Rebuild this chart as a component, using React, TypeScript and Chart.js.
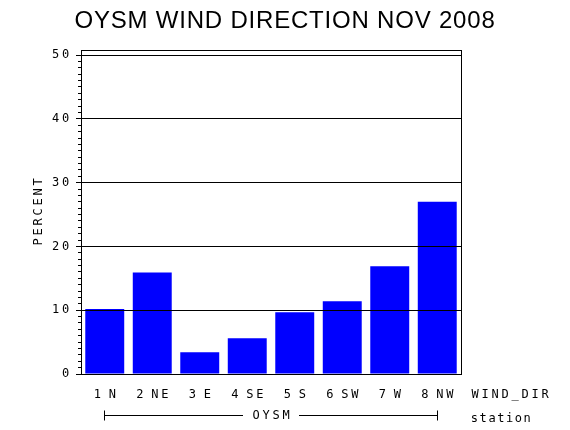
import { useEffect, useRef } from 'react'
import { Chart, registerables } from 'chart.js'
import type { Plugin } from 'chart.js'

Chart.register(...registerables)

const title = 'OYSM WIND DIRECTION NOV 2008'
const windDirs = ['1 N', '2 NE', '3 E', '4 SE', '5 S', '6 SW', '7 W', '8 NW']
const percent = [10.2, 15.9, 3.4, 5.6, 9.7, 11.4, 16.9, 27.0]
const yTicks = [0, 10, 20, 30, 40, 50]
const yMax = 50.8
const yMinorStep = 1
const yLabel = 'PERCENT'
const xLabel = 'WIND_DIR'
const stationName = 'OYSM'
const stationLabel = 'station'

const MONO = '12px "DejaVu Sans Mono", "Liberation Mono", monospace'

function cellWidth(ch: string) {
  if (ch === ' ') return 5
  if (ch >= 'a' && ch <= 'z') return 8.8
  return 10
}

function spacedWidth(text: string) {
  return [...text].reduce((w, ch) => w + cellWidth(ch), 0)
}

// SAS hardware-font look: each glyph centred in its own fixed cell
function drawSpaced(ctx: CanvasRenderingContext2D, text: string, x: number, y: number, align: 'left' | 'center' | 'right') {
  const total = spacedWidth(text)
  let cx = align === 'left' ? x : align === 'center' ? x - total / 2 : x - total
  ctx.textAlign = 'center'
  ctx.textBaseline = 'middle'
  for (const ch of text) {
    const w = cellWidth(ch)
    if (ch !== ' ') ctx.fillText(ch, cx + w / 2, y)
    cx += w
  }
}

const half = (v: number) => Math.round(v - 0.5) + 0.5

const sasFrame: Plugin<'bar'> = {
  id: 'sasFrame',
  afterDraw(chart) {
    const { ctx, chartArea: a, scales } = chart
    const x = scales.x
    const y = scales.y
    ctx.save()
    ctx.strokeStyle = '#000'
    ctx.fillStyle = '#000'
    ctx.lineWidth = 1

    // plot box
    ctx.strokeRect(a.left + 0.5, a.top + 0.5, a.right - a.left, a.bottom - a.top)

    // y ticks, major + minor, pointing outward
    const last = yTicks[yTicks.length - 1]
    for (let v = 0; v <= last; v += yMinorStep) {
      const py = half(y.getPixelForValue(v))
      const len = yTicks.includes(v) ? 5 : 3
      ctx.beginPath()
      ctx.moveTo(a.left - len, py)
      ctx.lineTo(a.left + 0.5, py)
      ctx.stroke()
    }

    ctx.font = MONO
    yTicks.forEach(v => drawSpaced(ctx, String(v), a.left - 10.5, y.getPixelForValue(v), 'right'))

    ctx.save()
    ctx.translate(39, (a.top + a.bottom) / 2)
    ctx.rotate(-Math.PI / 2)
    drawSpaced(ctx, yLabel, 0, 0, 'center')
    ctx.restore()

    windDirs.forEach((l, i) => drawSpaced(ctx, l, x.getPixelForValue(i), a.bottom + 21, 'center'))
    drawSpaced(ctx, xLabel, a.right + 9, a.bottom + 21, 'left')
    drawSpaced(ctx, stationLabel, a.right + 9, a.bottom + 45, 'left')

    // station bracket under the categories
    const x0 = half(x.getPixelForValue(0))
    const x1 = half(x.getPixelForValue(windDirs.length - 1))
    const ly = half(a.bottom + 41)
    const mid = (x0 + x1) / 2
    const gap = spacedWidth(stationName) / 2 + 8
    ctx.beginPath()
    ctx.moveTo(x0, ly)
    ctx.lineTo(mid - gap, ly)
    ctx.moveTo(mid + gap, ly)
    ctx.lineTo(x1, ly)
    ctx.moveTo(x0, ly - 5)
    ctx.lineTo(x0, ly + 5)
    ctx.moveTo(x1, ly - 5)
    ctx.lineTo(x1, ly + 5)
    ctx.stroke()
    drawSpaced(ctx, stationName, mid, ly, 'center')

    ctx.font = '24px "Liberation Sans", Arial, sans-serif'
    ctx.letterSpacing = '0.8px'
    ctx.textAlign = 'center'
    ctx.textBaseline = 'alphabetic'
    ctx.fillText(title, chart.width / 2, 28)
    ctx.restore()
  },
}

export default function App() {
  const canvasRef = useRef<HTMLCanvasElement>(null)
  const chartRef = useRef<Chart<'bar'> | null>(null)

  useEffect(() => {
    document.body.style.margin = '0'
    if (!canvasRef.current) return
    chartRef.current?.destroy()

    chartRef.current = new Chart(canvasRef.current, {
      type: 'bar',
      data: {
        labels: windDirs,
        datasets: [
          {
            data: percent,
            backgroundColor: '#0000ff',
            borderWidth: 0,
            categoryPercentage: 1,
            barPercentage: 0.82,
          },
        ],
      },
      options: {
        responsive: false,
        animation: false,
        layout: { padding: { left: 81, right: 109, top: 50, bottom: 56 } },
        plugins: {
          legend: { display: false },
          tooltip: { enabled: false },
          title: { display: false },
        },
        scales: {
          x: {
            offset: true,
            grid: { display: false },
            border: { display: false },
            ticks: { display: false },
            afterFit: s => { s.height = 0 },
          },
          y: {
            min: 0,
            max: yMax,
            afterBuildTicks: s => { s.ticks = yTicks.map(v => ({ value: v })) },
            grid: { color: '#000', lineWidth: 1, z: 1, drawTicks: false },
            border: { display: false },
            ticks: { display: false },
            afterFit: s => { s.width = 0 },
          },
        },
      },
      plugins: [sasFrame],
    })

    return () => {
      chartRef.current?.destroy()
      chartRef.current = null
    }
  }, [])

  return (
    <div style={{ width: 570, height: 430 }}>
      <canvas ref={canvasRef} width={570} height={430} style={{ display: 'block' }} />
    </div>
  )
}
